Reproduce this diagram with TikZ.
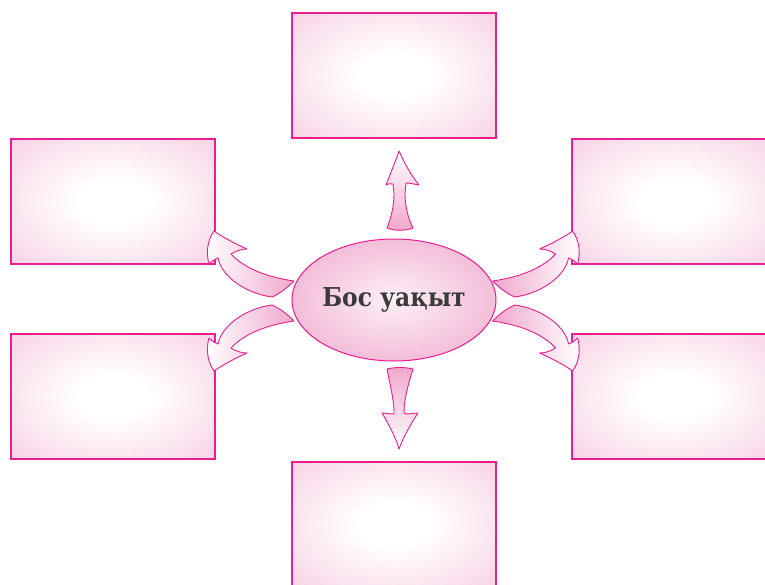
\documentclass[tikz,border=0pt]{standalone}
\usepackage{fontspec}
\setmainfont{DejaVu Serif}
\usepackage{tikz}
\usetikzlibrary{shapes.geometric, positioning}
\definecolor{mymagenta}{RGB}{234,30,140}
\definecolor{mypink}{RGB}{240,168,204}
\definecolor{mytext}{RGB}{58,58,58}
\pgfdeclareradialshading{boxglow}{\pgfpoint{0bp}{0bp}}{color(0bp)=(white); color(9bp)=(white); color(34bp)=(mypink!48); color(50bp)=(mypink!78); color(72bp)=(mypink)}
\tikzset{
  box/.style={rectangle,draw=mymagenta,line width=1.5pt,minimum width=204pt,
    minimum height=125pt,inner sep=0pt,shading=boxglow},
  hub/.style={ellipse,draw=mymagenta,line width=1pt,minimum width=204pt,
    minimum height=122pt,inner sep=0pt,inner color=mypink!18,outer color=mypink!75},
  hubtext/.style={font=\bfseries\fontsize{26}{30}\selectfont,text=mytext},
  fatarrow/.style={draw=mymagenta,line width=0.9pt,line join=round},
  warrow/.style={fatarrow,left color=white,right color=mypink},
  earrow/.style={fatarrow,left color=mypink,right color=white},
  narrow/.style={fatarrow,top color=white,bottom color=mypink},
  sarrow/.style={fatarrow,top color=mypink,bottom color=white}
}
% curved fat arrow, head to the upper left
\newcommand{\bendarrow}[1]{%
  \draw[#1] (294,281) .. controls (266,277) and (244,268) .. (231,254)
    .. controls (236,251) and (241,249) .. (247,249)
    .. controls (236,244) and (224,238) .. (214,231)
    .. controls (207,241) and (206,253) .. (209,264)
    .. controls (212,261) and (215,259) .. (218,258)
    .. controls (222,278) and (248,294) .. (272,297)
    .. controls (281,293) and (288,287) .. cycle;}

\begin{document}
\begin{tikzpicture}[x=1pt,y=-1pt]
  \useasboundingbox (0,0) rectangle (765,585);
  \clip (0,0) rectangle (765,585);

  % ── Boxes ────────────────────────────────────────────────────────────────
  \node[box] (boxN)  at (394,75.5)  {};
  \node[box] (boxNW) at (113,201.5) {};
  \node[box] (boxSW) at (113,396.5) {};
  \node[box] (boxNE) at (674,201.5) {};
  \node[box] (boxSE) at (674,396.5) {};
  \node[box] (boxS)  at (394,524.5) {};

  % ── Straight arrows (up / down) ──────────────────────────────────────────
  \draw[narrow] (387,228) .. controls (391,218) and (394,206) .. (394,194)
    -- (393,184) .. controls (390,183) and (388,184) .. (386,185)
    .. controls (391,172) and (396,160) .. (399,151)
    .. controls (403,160) and (410,174) .. (419,185)
    .. controls (414,184) and (409,183) .. (406,183)
    -- (405,194) .. controls (405,206) and (408,218) .. (413,228)
    .. controls (405,231) and (395,231) .. cycle;
  \draw[sarrow] (387,369) .. controls (395,367) and (405,367) .. (413,369)
    .. controls (408,385) and (404,400) .. (404,412)
    -- (405,414) .. controls (410,414) and (415,413) .. (418,413)
    .. controls (410,425) and (403,438) .. (399,449)
    .. controls (396,438) and (389,425) .. (382,413)
    .. controls (386,413) and (390,414) .. (394,414)
    -- (394,412) .. controls (394,400) and (390,385) .. cycle;

  % ── Curved arrows (mirrored copies) ──────────────────────────────────────
  \bendarrow{warrow}
  \begin{scope}[shift={(0,602)},yscale=-1]
    \bendarrow{warrow}
  \end{scope}
  \begin{scope}[shift={(786.6,0)},xscale=-1]
    \bendarrow{earrow}
  \end{scope}
  \begin{scope}[shift={(786.6,602)},xscale=-1,yscale=-1]
    \bendarrow{earrow}
  \end{scope}

  % ── Centre ───────────────────────────────────────────────────────────────
  \node[hub,label={[hubtext]center:\scalebox{0.9}[1]{Бос уақыт}}] (hub) at (394,300) {};
\end{tikzpicture}
\end{document}
